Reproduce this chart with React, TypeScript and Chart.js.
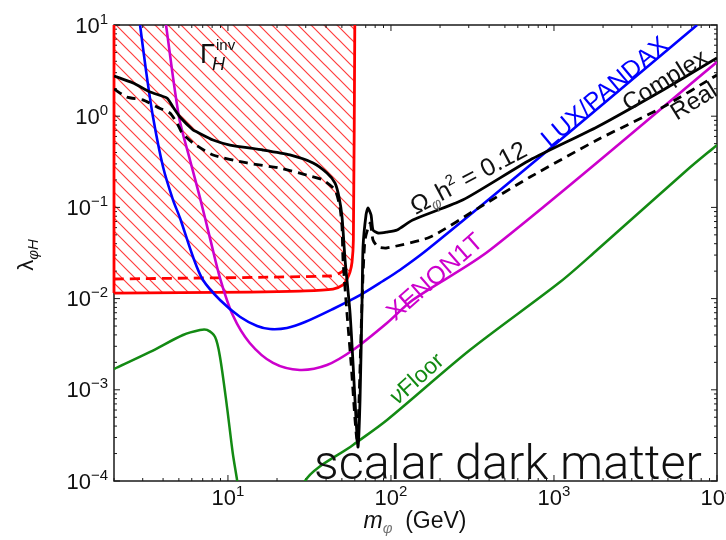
import { useEffect, useRef } from "react";
import { Chart, registerables } from "chart.js";

Chart.register(...registerables);

// ---- data: Higgs-portal scalar dark matter, lambda_{phi H} versus m_phi (GeV) ----

// Higgs invisible-width bound (solid) and its left edge
const invMass = [2, 13.6, 27.6, 44.1, 50.8, 53.7, 56.1, 57.7, 58.8, 60];
const invLambda = [0.0115, 0.0118, 0.0121, 0.0127, 0.0141, 0.0164, 0.0196, 0.0252, 0.0439, 10];
const edgeMass = [2, 2];
const edgeLambda = [0.0115, 10];
// Higgs invisible-width bound (dashed)
const invDashMass = [2, 42.3, 48.6, 53.7];
const invDashLambda = [0.0164, 0.0177, 0.0191, 0.0217];

// LUX / PANDAX direct-detection limit
const luxMass = [2.89, 3.14, 3.47, 4.0, 4.6, 5.08, 6.11, 7.03, 8.94, 11.9, 15.1, 18.1, 23.0, 29.7, 44.1, 64.6, 89.4, 113.5, 166, 820, 7550];
const luxLambda = [10, 3.21, 0.98, 0.277, 0.121, 0.0766, 0.0286, 0.016, 0.00966, 0.00628, 0.00501, 0.00464, 0.00476, 0.00553, 0.00769, 0.0109, 0.0156, 0.0206, 0.0341, 0.357, 10];

// XENON1T projection
const xenonMass = [4.17, 5.01, 5.85, 6.74, 7.76, 8.94, 10.7, 13.6, 18.9, 27.6, 40.5, 58.5, 94.6, 136, 405, 10000];
const xenonLambda = [10, 0.98, 0.331, 0.127, 0.0461, 0.0168, 0.0066, 0.00326, 0.00197, 0.00165, 0.00187, 0.00273, 0.0054, 0.00966, 0.0341, 3.93];

// neutrino floor
const floorMass = [2, 3.33, 5.3, 6.74, 7.44, 8.34, 8.94, 9.87, 10.7, 11.4, 13, 25, 29.7, 58.5, 94.6, 305, 1089, 1837, 6550, 10000];
const floorLambda = [0.00169, 0.0026, 0.00399, 0.00453, 0.00453, 0.00379, 0.00229, 0.000647, 0.000203, 0.0001, 0.00002, 0.00002, 0.0001, 0.000248, 0.000467, 0.00273, 0.0152, 0.0341, 0.257, 0.483];

// relic abundance Omega h^2 = 0.12, complex scalar
const complexMass = [2, 2.62, 3.33, 4.23, 4.6, 5.08, 6.11, 6.46, 8.1, 10.3, 16.4, 24.0, 33.3, 40.5, 45.4, 48.0, 50.1, 52.3, 56.1, 58.5, 61.1, 62.8, 64.6, 66.5, 67.4, 70.3, 72.3, 75.5, 77.6, 83.4, 94.6, 109, 136, 277, 713, 1837, 4670, 10000];
const complexLambda = [2.76, 2.31, 1.84, 1.58, 1.26, 0.98, 0.706, 0.671, 0.548, 0.483, 0.426, 0.376, 0.307, 0.238, 0.185, 0.13, 0.0785, 0.0265, 0.00695, 0.00197, 0.000467, 0.000236, 0.000773, 0.00966, 0.0368, 0.0826, 0.0985, 0.0826, 0.0565, 0.0524, 0.0537, 0.0565, 0.0728, 0.121, 0.331, 0.762, 1.94, 4.35];

// relic abundance Omega h^2 = 0.12, real scalar
const realMass = [2, 2.4, 3.01, 3.67, 4.41, 4.87, 5.23, 6.11, 8.1, 13.1, 20.8, 30.5, 38.3, 45.4, 48.6, 50.1, 50.8, 53.7, 56.9, 60.2, 61.9, 63.7, 66.5, 69.3, 74.5, 77.6, 83.4, 94.6, 174, 352, 713, 1837, 4670, 10000];
const realLambda = [1.99, 1.62, 1.51, 1.26, 1.08, 0.842, 0.655, 0.508, 0.376, 0.307, 0.27, 0.226, 0.2, 0.155, 0.101, 0.061, 0.0265, 0.00695, 0.00197, 0.000467, 0.000282, 0.000773, 0.00966, 0.0439, 0.0675, 0.0439, 0.0368, 0.0359, 0.0473, 0.101, 0.215, 0.548, 1.26, 2.83];

// axes
const xRange = [2, 10000];
const yRange = [1e-4, 10];
const xExponents = [1, 2, 3, 4];
const yExponents = [-4, -3, -2, -1, 0, 1];

const FONT = '"Liberation Sans", "Helvetica Neue", Arial, sans-serif';

const pts = (xs: number[], ys: number[]) => xs.map((x, i) => ({ x, y: ys[i] }));

type Seg = { t: string; s: number; dy?: number; it?: boolean; c?: string };

const fontOf = (g: Seg) => `${g.it ? "italic " : ""}${g.s}px ${FONT}`;

function widthOf(ctx: CanvasRenderingContext2D, segs: Seg[]) {
  let w = 0;
  for (const g of segs) {
    ctx.font = fontOf(g);
    w += ctx.measureText(g.t).width;
  }
  return w;
}

function drawSegs(
  ctx: CanvasRenderingContext2D,
  segs: Seg[],
  x: number,
  y: number,
  deg = 0,
  align: "left" | "center" | "right" = "left",
  color = "#111",
  shift = 0
) {
  ctx.save();
  ctx.translate(x, y);
  ctx.rotate((deg * Math.PI) / 180);
  const w = widthOf(ctx, segs);
  let cx = align === "center" ? -w / 2 : align === "right" ? -w : 0;
  ctx.textAlign = "left";
  ctx.textBaseline = "alphabetic";
  for (const g of segs) {
    ctx.font = fontOf(g);
    ctx.fillStyle = g.c ?? color;
    ctx.fillText(g.t, cx, shift + (g.dy ?? 0));
    cx += ctx.measureText(g.t).width;
  }
  ctx.restore();
}

const power = (e: number): Seg[] => [
  { t: "10", s: 22 },
  { t: e < 0 ? "\u2212" + -e : String(e), s: 15, dy: -9 },
];

function hatchPattern(): CanvasPattern | string {
  const s = 13;
  const c = document.createElement("canvas");
  c.width = s;
  c.height = s;
  const g = c.getContext("2d");
  if (!g) return "rgba(255,0,0,0.2)";
  g.strokeStyle = "rgba(255,40,40,0.9)";
  g.lineWidth = 1.2;
  g.beginPath();
  g.moveTo(-1, -1);
  g.lineTo(s + 1, s + 1);
  g.moveTo(-1, s - 1);
  g.lineTo(1, s + 1);
  g.moveTo(s - 1, -1);
  g.lineTo(s + 1, 1);
  g.stroke();
  return g.createPattern(c, "repeat") ?? "rgba(255,0,0,0.2)";
}

// frame with inward major and minor ticks on all four sides
const framePlugin = {
  id: "frame",
  beforeDatasetsDraw(chart: any) {
    const { ctx, chartArea: a, scales } = chart;
    ctx.save();
    ctx.strokeStyle = "#1a1a1a";
    ctx.lineWidth = 1.5;
    ctx.strokeRect(a.left, a.top, a.right - a.left, a.bottom - a.top);
    ctx.lineWidth = 1;
    ctx.beginPath();
    for (let d = 0; d <= 3; d++) {
      for (let k = 1; k <= 9; k++) {
        const v = k * Math.pow(10, d);
        if (v < xRange[0] || v > xRange[1]) continue;
        const px = scales.x.getPixelForValue(v);
        const len = k === 1 ? 6 : 3;
        ctx.moveTo(px, a.bottom);
        ctx.lineTo(px, a.bottom - len);
        ctx.moveTo(px, a.top);
        ctx.lineTo(px, a.top + len);
      }
    }
    const px4 = scales.x.getPixelForValue(10000);
    ctx.moveTo(px4, a.bottom);
    ctx.lineTo(px4, a.bottom - 6);
    for (let d = -4; d <= 1; d++) {
      for (let k = 1; k <= 9; k++) {
        const v = k * Math.pow(10, d);
        if (v < yRange[0] || v > yRange[1]) continue;
        const py = scales.y.getPixelForValue(v);
        const len = k === 1 ? 6 : 3;
        ctx.moveTo(a.left, py);
        ctx.lineTo(a.left + len, py);
        ctx.moveTo(a.right, py);
        ctx.lineTo(a.right - len, py);
      }
    }
    ctx.stroke();
    ctx.restore();
  },
};

// tick labels, axis titles and curve annotations
const textPlugin = {
  id: "texts",
  afterDraw(chart: any) {
    const { ctx, chartArea: a, scales } = chart;
    for (const e of yExponents) {
      const py = scales.y.getPixelForValue(Math.pow(10, e));
      drawSegs(ctx, power(e), 108, py + 7.5, 0, "right");
    }
    for (const e of xExponents) {
      const px = scales.x.getPixelForValue(Math.pow(10, e));
      drawSegs(ctx, power(e), px, 505, 0, "center");
    }
    drawSegs(
      ctx,
      [
        { t: "m", s: 23, it: true },
        { t: "\u03c6", s: 15, it: true, dy: 5, c: "#777" },
        { t: "  (GeV)", s: 23 },
      ],
      415,
      528,
      0,
      "center"
    );
    drawSegs(
      ctx,
      [
        { t: "\u03bb", s: 22 },
        { t: "\u03c6H", s: 15, it: true, dy: 5 },
      ],
      33,
      255,
      -90,
      "center"
    );

    ctx.save();
    ctx.beginPath();
    ctx.rect(a.left, a.top, a.right - a.left, a.bottom - a.top);
    ctx.clip();

    drawSegs(ctx, [{ t: "\u0393", s: 27 }], 200, 63);
    drawSegs(ctx, [{ t: "inv", s: 15 }], 216, 50);
    drawSegs(ctx, [{ t: "H", s: 18, it: true }], 212, 70);

    drawSegs(
      ctx,
      [
        { t: "\u03a9", s: 25 },
        { t: "\u03c6", s: 15, it: true, dy: 5, c: "#666" },
        { t: "h", s: 25 },
        { t: "2", s: 15, dy: -10 },
        { t: " = 0.12", s: 25 },
      ],
      468,
      177,
      -28,
      "center",
      "#111",
      9
    );
    drawSegs(ctx, [{ t: "LUX/PANDAX", s: 25 }], 604, 91, -40, "center", "#0000ff", 9);
    drawSegs(ctx, [{ t: "Complex", s: 24 }], 664, 79, -32, "center", "#111", 9);
    drawSegs(ctx, [{ t: "Real", s: 24 }], 693, 100, -32, "center", "#111", 9);
    drawSegs(ctx, [{ t: "XENON1T", s: 25 }], 434, 276, -41, "center", "#cc00cc", 9);
    drawSegs(
      ctx,
      [
        { t: "\u03bd", s: 23, it: true },
        { t: "Floor", s: 23 },
      ],
      416,
      378,
      -42,
      "center",
      "#138a13",
      8
    );

    // large light caption along the bottom
    const cap = "scalar dark matter";
    ctx.font = `300 48px Roboto, ${FONT}`;
    const w = ctx.measureText(cap).width;
    ctx.translate(314, 479);
    ctx.scale(388 / w, 1);
    ctx.fillStyle = "#111";
    ctx.textAlign = "left";
    ctx.textBaseline = "alphabetic";
    ctx.fillText(cap, 0, 0);
    ctx.restore();
  },
};

export default function App() {
  const ref = useRef<HTMLCanvasElement>(null);

  useEffect(() => {
    const canvas = ref.current;
    if (!canvas) return;
    const hatch = hatchPattern();
    const line = (data: { x: number; y: number }[], color: string, width: number, extra: any = {}) => ({
      data,
      borderColor: color,
      borderWidth: width,
      pointRadius: 0,
      fill: false,
      tension: 0.3,
      ...extra,
    });

    const chart = new Chart(canvas, {
      type: "line",
      data: {
        datasets: [
          line(pts(complexMass, complexLambda), "#000", 2.8, { tension: 0.2 }),
          line(pts(realMass, realLambda), "#000", 2.8, { tension: 0.2, borderDash: [9, 6] }),
          line(pts(luxMass, luxLambda), "#0000ff", 2.6),
          line(pts(xenonMass, xenonLambda), "#cc00cc", 2.6),
          line(pts(floorMass, floorLambda), "#138a13", 2.5),
          line(pts(invDashMass, invDashLambda), "#ff0000", 2.8, { borderDash: [10, 6] }),
          line(pts(invMass, invLambda), "#ff0000", 2.8, { fill: "end", backgroundColor: hatch }),
          line(pts(edgeMass, edgeLambda), "#ff0000", 2.8, { tension: 0, clip: 3 }),
        ],
      },
      options: {
        responsive: false,
        animation: false,
        devicePixelRatio: 1,
        layout: { padding: { top: 25, right: 9, left: 0, bottom: 0 } },
        plugins: {
          legend: { display: false },
          tooltip: { enabled: false },
          filler: { drawTime: "beforeDatasetsDraw" },
        },
        events: [],
        scales: {
          x: {
            type: "logarithmic",
            min: xRange[0],
            max: xRange[1],
            ticks: { display: false },
            grid: { display: false },
            border: { display: false },
            afterFit: (s: any) => {
              s.height = 59;
            },
          },
          y: {
            type: "logarithmic",
            min: yRange[0],
            max: yRange[1],
            ticks: { display: false },
            grid: { display: false },
            border: { display: false },
            afterFit: (s: any) => {
              s.width = 114;
            },
          },
        },
      } as any,
      plugins: [framePlugin, textPlugin],
    });
    return () => chart.destroy();
  }, []);

  return (
    <div style={{ position: "absolute", left: 0, top: 0, width: 726, height: 540, background: "#fff" }}>
      <canvas ref={ref} width={726} height={540} style={{ display: "block", width: 726, height: 540 }} />
    </div>
  );
}
